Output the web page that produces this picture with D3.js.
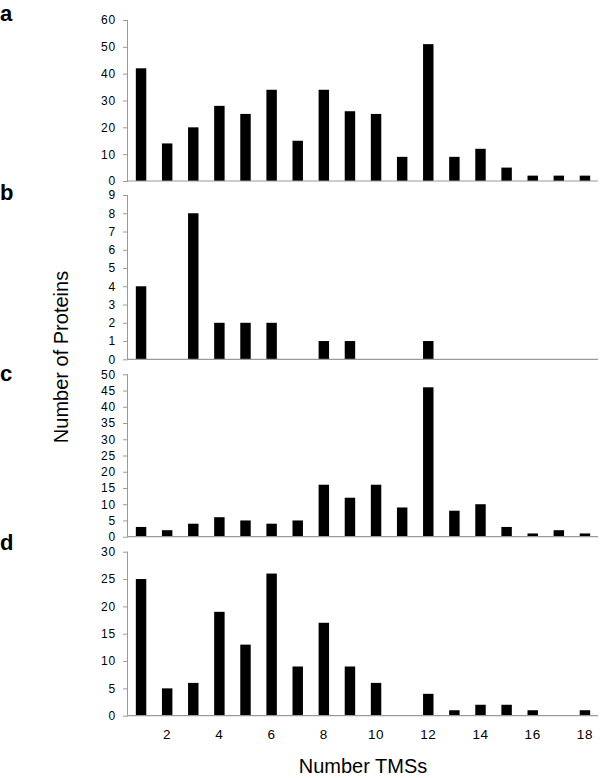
<!DOCTYPE html>
<html>
<head>
<meta charset="utf-8">
<script src="https://cdn.jsdelivr.net/npm/d3@7/dist/d3.min.js"></script>
<style>
  html, body { margin: 0; padding: 0; background: #fff; }
  svg { display: block; font-family: "Liberation Sans", Arial, Helvetica, sans-serif; }
</style>
</head>
<body>
<svg id="chart" width="600" height="778"></svg>
<script>
// ---- data ----
const categories = [1,2,3,4,5,6,7,8,9,10,11,12,13,14,15,16,17,18];
const seriesA = [42,14,20,28,25,34,15,34,26,25,9,51,9,12,5,2,2,2];
const seriesB = [4,0,8,2,2,2,0,1,1,0,0,1,0,0,0,0,0,0];
const seriesC = [3,2,4,6,5,4,5,16,12,16,9,46,8,10,3,1,2,1];
const seriesD = [25,5,6,19,13,26,9,17,9,6,0,4,1,2,2,1,0,1];
const ticksA = [0,10,20,30,40,50,60];
const ticksB = [0,1,2,3,4,5,6,7,8,9];
const ticksC = [0,5,10,15,20,25,30,35,40,45,50];
const ticksD = [0,5,10,15,20,25,30];
const xTickLabels = [2,4,6,8,10,12,14,16,18];
const panelLetters = ["a","b","c","d"];
const yTitle = "Number of Proteins";
const xTitle = "Number TMSs";

// ---- layout ----
const svg = d3.select("#chart");
const left = 128, right = 598;
const axisColor = "#9a9a9a";
const tickFont = "12px";

const x = d3.scaleBand()
  .domain(categories)
  .range([left, right])
  .paddingInner(0.6)
  .paddingOuter(0.3);

const panels = [
  { values: seriesA, ticks: ticksA, top: 20,    bottom: 181,   letterY: 21 },
  { values: seriesB, ticks: ticksB, top: 195,   bottom: 359.3, letterY: 200 },
  { values: seriesC, ticks: ticksC, top: 374.3, bottom: 536.7, letterY: 381 },
  { values: seriesD, ticks: ticksD, top: 551.7, bottom: 715.7, letterY: 550 }
];

panels.forEach((p, i) => {
  const y = d3.scaleLinear()
    .domain([0, d3.max(p.ticks)])
    .range([p.bottom, p.top]);

  const g = svg.append("g");

  g.selectAll("rect")
    .data(categories.map((c, k) => ({ c, v: p.values[k] })))
    .join("rect")
    .attr("x", d => x(d.c))
    .attr("width", x.bandwidth())
    .attr("y", d => y(d.v))
    .attr("height", d => y(0) - y(d.v))
    .attr("fill", "#000");

  const ya = g.append("g")
    .attr("transform", `translate(${left},0)`)
    .call(d3.axisLeft(y).tickValues(p.ticks).tickSize(5).tickPadding(7).tickFormat(d3.format("d")));
  ya.select(".domain").attr("stroke", axisColor).attr("d", `M-0.5,${p.bottom}V${p.top}`);
  ya.selectAll(".tick line").attr("stroke", axisColor);
  ya.selectAll(".tick text")
    .attr("fill", "#000")
    .style("font-size", tickFont)
    .style("letter-spacing", "0.8px")
    .style("font-family", "'Liberation Sans', Arial, sans-serif");

  g.append("line")
    .attr("x1", left - 0.5).attr("x2", right)
    .attr("y1", y(0)).attr("y2", y(0))
    .attr("stroke", axisColor).attr("stroke-width", 1.2);

  svg.append("text")
    .attr("x", 0).attr("y", p.letterY)
    .attr("font-size", 22).attr("font-weight", "bold")
    .attr("fill", "#000")
    .text(panelLetters[i]);

  if (i === panels.length - 1) {
    const xa = g.append("g")
      .attr("transform", `translate(0,${p.bottom})`)
      .call(d3.axisBottom(x).tickValues(xTickLabels).tickSize(0).tickPadding(14));
    xa.select(".domain").remove();
    xa.selectAll(".tick text")
      .attr("fill", "#000")
      .style("font-size", "13.5px")
      .style("letter-spacing", "0.6px")
      .style("font-family", "'Liberation Sans', Arial, sans-serif");
  }
});

svg.append("text")
  .attr("transform", "translate(68,357) rotate(-90)")
  .attr("text-anchor", "middle")
  .attr("font-size", 20)
  .attr("fill", "#000")
  .text(yTitle);

svg.append("text")
  .attr("x", 363).attr("y", 773)
  .attr("text-anchor", "middle")
  .attr("font-size", 20)
  .attr("fill", "#000")
  .text(xTitle);
</script>
</body>
</html>
